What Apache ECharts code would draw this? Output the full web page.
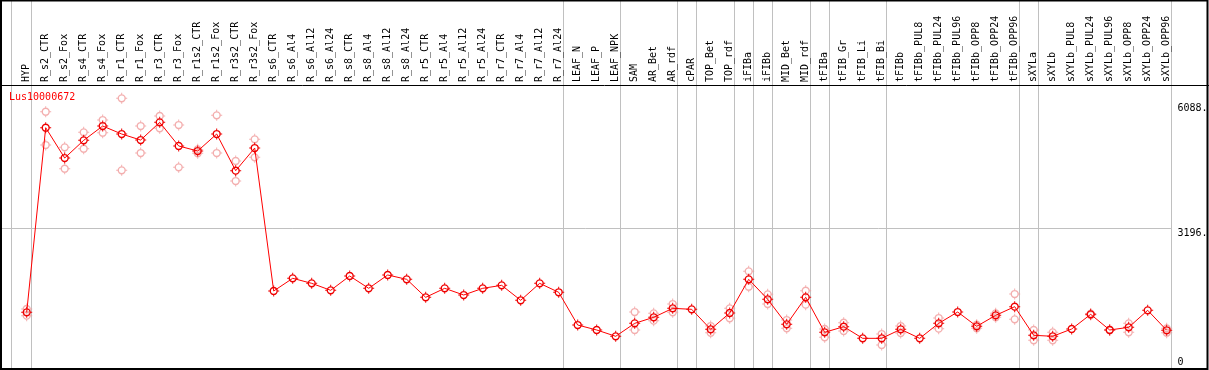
<!DOCTYPE html>
<html><head><meta charset="utf-8">
<script src="https://cdn.jsdelivr.net/npm/echarts@6/dist/echarts.min.js"></script>
<style>html,body{margin:0;padding:0;background:#fff}#c{width:1209px;height:370px}</style>
</head><body><div id="c"></div>
<script>
const categories = ['HYP','R_s2_CTR','R_s2_Fox','R_s4_CTR','R_s4_Fox','R_r1_CTR','R_r1_Fox','R_r3_CTR','R_r3_Fox','R_r1s2_CTR','R_r1s2_Fox','R_r3s2_CTR','R_r3s2_Fox','R_s6_CTR','R_s6_Al4','R_s6_Al12','R_s6_Al24','R_s8_CTR','R_s8_Al4','R_s8_Al12','R_s8_Al24','R_r5_CTR','R_r5_Al4','R_r5_Al12','R_r5_Al24','R_r7_CTR','R_r7_Al4','R_r7_Al12','R_r7_Al24','LEAF_N','LEAF_P','LEAF_NPK','SAM','AR_Bet','AR_rdf','cPAR','TOP_Bet','TOP_rdf','iFIBa','iFIBb','MID_Bet','MID_rdf','tFIBa','tFIB_Gr','tFIB_Li','tFIB_Bi','tFIBb','tFIBb_PUL8','tFIBb_PUL24','tFIBb_PUL96','tFIBb_OPP8','tFIBb_OPP24','tFIBb_OPP96','sXYLa','sXYLb','sXYLb_PUL8','sXYLb_PUL24','sXYLb_PUL96','sXYLb_OPP8','sXYLb_OPP24','sXYLb_OPP96'];
const meanValues = [1242,5512,4811,5220,5551,5366,5227,5636,5089,4973,5366,4518,5042,1735,2028,1912,1751,2082,1797,2105,2005,1589,1797,1642,1797,1866,1520,1912,1705,948,833,687,987,1126,1334,1311,848,1226,2005,1542,964,1589,779,910,640,640,848,640,987,1249,918,1172,1372,710,687,856,1195,833,895,1288,826];
const replicate1 = [1320,5882,5058,5405,5690,6192,5551,5783,5574,5011,5798,4742,5243,null,null,null,null,null,null,null,null,null,null,null,null,null,null,null,null,null,null,null,1249,1219,1434,null,925,1334,2190,1658,1064,1742,856,1002,null,740,925,null,1110,null,955,1219,1665,833,779,null,1210,840,987,null,872];
const replicate2 = [1165,5112,4563,5026,5396,4526,4927,5498,4596,4920,4927,4279,4827,null,null,null,null,null,null,null,null,null,null,null,null,null,null,null,null,null,null,null,833,1048,1242,null,770,1103,1834,1434,872,1418,664,810,null,486,763,null,863,null,872,1126,1080,594,594,null,1180,826,779,null,770];
const separatorAfter = [-1,0,28,31,34,35,37,38,39,41,42,45,52,53,60];
const yTickValues = [6088,3196,0];
const yTickLabels = ['6088.','3196.','0'];
const gridLineValue = 3196;
const titleText = 'Lus10000672';

const FONT = 'DejaVu Sans Mono';
const SYM = 'path://M2.5,10A7.5,7.5,0,1,1,17.5,10A7.5,7.5,0,1,1,2.5,10ZM5,10A5,5,0,1,0,15,10A5,5,0,1,0,5,10ZM9.1,0L10.9,0L10.9,3L9.1,3ZM9.1,17L10.9,17L10.9,20L9.1,20ZM0,9.1L3,9.1L3,10.9L0,10.9ZM17,9.1L20,9.1L20,10.9L17,10.9Z';

const toPairs = arr => arr.map((v,i)=> v==null ? null : [i,v]).filter(d=>d);

const chart = echarts.init(document.getElementById('c'), null, {renderer:'canvas'});
const option = {
  animation:false,
  backgroundColor:'#fff',
  grid:{left:17.2, right:32.8, top:85, bottom:4},
  xAxis:[
    {type:'category', data:categories, position:'top', boundaryGap:true,
     axisLine:{show:false}, axisTick:{show:false}, splitLine:{show:false},
     axisLabel:{rotate:90, margin:3, interval:0, fontFamily:FONT, fontSize:10, color:'#000'}},
    {type:'value', min:-0.5, max:60.5, show:false}
  ],
  yAxis:{type:'value', min:0, max:6500, show:false},
  series:[
    {type:'scatter', xAxisIndex:1, data:toPairs(replicate1), symbol:SYM, symbolSize:11,
     itemStyle:{color:'#f09a9a'}, z:2},
    {type:'scatter', xAxisIndex:1, data:toPairs(replicate2), symbol:SYM, symbolSize:11,
     itemStyle:{color:'#f09a9a'}, z:2},
    {type:'line', xAxisIndex:1, data:toPairs(meanValues), symbol:SYM, symbolSize:11, showSymbol:true,
     lineStyle:{color:'#ff0000', width:1}, itemStyle:{color:'#ee0000'}, z:3}
  ]
};
chart.setOption(option);

const px = (x,y) => chart.convertToPixel({xAxisIndex:1, yAxisIndex:0}, [x,y]);
const crisp = v => Math.round(v)+0.5;
const g = [];
separatorAfter.forEach(s => {
  const x = crisp(px(s+0.2,0)[0]);
  g.push({type:'line', shape:{x1:x,y1:0,x2:x,y2:370}, style:{stroke:'#c0c0c0', lineWidth:1}, z:0, silent:true});
});
const gy = crisp(px(0,gridLineValue)[1]);
const rightX = crisp(px(60.2,0)[0]);
g.push({type:'line', shape:{x1:0,y1:gy,x2:rightX,y2:gy}, style:{stroke:'#c0c0c0', lineWidth:1}, z:0, silent:true});
const topY = crisp(px(0,6500)[1]);
g.push({type:'line', shape:{x1:0,y1:topY,x2:1209,y2:topY}, style:{stroke:'#000', lineWidth:1}, z:10, silent:true});
g.push({type:'rect', shape:{x:1,y:0.5,width:1206.5,height:368.5}, style:{stroke:'#000', fill:null, lineWidth:2}, z:10, silent:true});
yTickValues.forEach((v,i) => {
  const y = px(0,v)[1];
  g.push({type:'text', x:rightX+6, y: y+1, style:{text:yTickLabels[i], fontFamily:FONT, fontSize:10, fill:'#000', verticalAlign: v===0 ? 'bottom':'top', align:'left'}, z:10, silent:true});
});
g.push({type:'text', x:9, y:92, style:{text:titleText, fontFamily:FONT, fontSize:10, fill:'#ff0000', verticalAlign:'top'}, z:10, silent:true});
chart.setOption({graphic:g});
</script></body></html>
